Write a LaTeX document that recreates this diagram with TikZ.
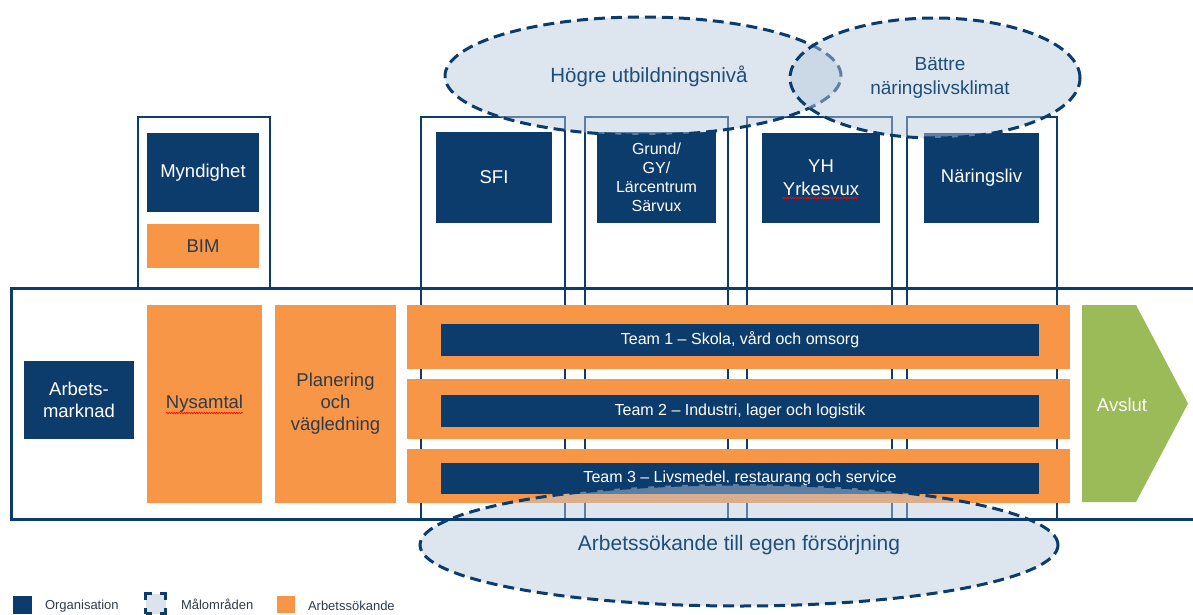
\documentclass[tikz,border=0pt]{standalone}
\usepackage{fontspec}
\setmainfont{Liberation Sans}
\usetikzlibrary{shapes.geometric,decorations.pathmorphing}
\definecolor{navy}{HTML}{0C3C6C}
\definecolor{orng}{HTML}{F79646}
\definecolor{grn}{HTML}{9BBB59}
\definecolor{goalfill}{HTML}{B8CADB}
\definecolor{goaltext}{HTML}{1F4E79}
\definecolor{darktext}{HTML}{2F3B4A}
\begin{document}
\begin{tikzpicture}[x=1pt,y=-1pt,
 every node/.style={inner sep=0pt, outer sep=0pt},
 frame/.style={draw=navy, line width=2.8pt},
 org/.style={fill=navy, text=white, font=\fontsize{18.5}{22}\selectfont, align=center},
 seek/.style={fill=orng, text=darktext, font=\fontsize{18.5}{22}\selectfont, align=center},
 teambar/.style={fill=navy, text=white, font=\fontsize{16}{18}\selectfont},
 goal/.style={ellipse, draw=navy, line width=3pt, dash pattern=on 11pt off 6pt, fill=goalfill, fill opacity=0.48, draw opacity=1},
 goaltxt/.style={text=goaltext, font=\fontsize{20.5}{24}\selectfont, align=center},
 legtxt/.style={text=darktext, font=\fontsize{13}{15}\selectfont, anchor=west},
 squiggle/.style={draw=red, line width=0.6pt, decorate, decoration={snake, amplitude=0.7pt, segment length=2.5pt}}
]
\useasboundingbox (0,0) rectangle (1193,615);

% column frames
\node[frame, minimum width=132pt, minimum height=171pt] (myndframe) at (204,202.5) {};
\node[frame, minimum width=144pt, minimum height=402pt] (sfiframe) at (493,318) {};
\node[frame, minimum width=143pt, minimum height=402pt] (grundframe) at (656.5,318) {};
\node[frame, minimum width=145pt, minimum height=402pt] (yhframe) at (819.5,318) {};
\node[frame, minimum width=150pt, minimum height=402pt] (naframe) at (982,318) {};

% organisation boxes
\node[org, minimum width=112pt, minimum height=79pt] (mynd) at (203,172.5) {Myndighet};
\node[seek, minimum width=112pt, minimum height=44pt] (bim) at (203,246) {BIM};
\node[org, minimum width=116pt, minimum height=91pt] (sfi) at (494,177.5) {SFI};
\node[org, minimum width=119pt, minimum height=91pt, font=\fontsize{16}{19}\selectfont] (grund) at (656.5,177.5) {Grund/\\GY/\\Lärcentrum\\Särvux};
\node[org, minimum width=118pt, minimum height=90pt, font=\fontsize{18.5}{23}\selectfont] (yh) at (821,178) {YH\\Yrkesvux};
\node[org, minimum width=115pt, minimum height=90pt] (na) at (981.5,177.5) {Näringsliv};

% process row
\node[org, minimum width=110pt, minimum height=78pt] (arb) at (79,400) {Arbets-\\marknad};
\node[seek, minimum width=115pt, minimum height=198pt] (nys) at (204.5,404) {Nysamtal};
\node[seek, minimum width=121pt, minimum height=198pt] (plan) at (335.5,404) {Planering\\och\\vägledning};

\node[fill=orng, minimum width=663pt, minimum height=64pt] (t1o) at (738.5,337) {};
\node[fill=orng, minimum width=663pt, minimum height=60pt] (t2o) at (738.5,409) {};
\node[fill=orng, minimum width=663pt, minimum height=54pt] (t3o) at (738.5,476) {};
\node[teambar, minimum width=598pt, minimum height=32pt] (t1) at (740,340) {Team 1 – Skola, vård och omsorg};
\node[teambar, minimum width=598pt, minimum height=32pt] (t2) at (740,411) {Team 2 – Industri, lager och logistik};
\node[teambar, minimum width=598pt, minimum height=31pt] (t3) at (740,478.5) {Team 3 – Livsmedel, restaurang och service};

\fill[grn] (1082,305) -- (1136,305) -- (1188,403.5) -- (1136,502) -- (1082,502) -- cycle;
\node[text=white, font=\fontsize{18.5}{22}\selectfont] (avslut) at (1122,405) {Avslut};

% spell-check squiggles
\draw[squiggle] (166,413) -- (243,413);
\draw[squiggle] (782,198) -- (858,198);

% goal ellipses
\node[goal, minimum width=396pt, minimum height=118pt] (hogre) at (643,76) {};
\node[goal, minimum width=290pt, minimum height=120pt] (battre) at (935,78) {};
\node[goal, minimum width=638pt, minimum height=122pt] (arbsok) at (739,545) {};
\node[goaltxt] (hogretxt) at (649,76) {Högre utbildningsnivå};
\node[goaltxt, font=\fontsize{19}{24}\selectfont] (battretxt) at (940,78) {Bättre\\näringslivsklimat};
\node[goaltxt, font=\fontsize{21}{24}\selectfont] (arbsoktxt) at (739,545) {Arbetssökande till egen försörjning};

% main frame
\draw[navy, line width=3pt] (1193,288) -- (11,288) -- (11,519) -- (1193,519);

% legend
\node[fill=navy, minimum width=19pt, minimum height=18pt] (leg1) at (22.5,605) {};
\node[legtxt] (leg1t) at (45,606) {Organisation};
\node[draw=navy, line width=2.5pt, fill=goalfill!50, dash pattern=on 12pt off 8pt, dash phase=6pt, minimum width=20pt, minimum height=20pt] (leg2) at (155.5,603.5) {};
\node[legtxt] (leg2t) at (181,604) {Målområden};
\node[fill=orng, minimum width=18pt, minimum height=17pt] (leg3) at (286,604.5) {};
\node[legtxt] (leg3t) at (308,606) {Arbetssökande};
\end{tikzpicture}
\end{document}
